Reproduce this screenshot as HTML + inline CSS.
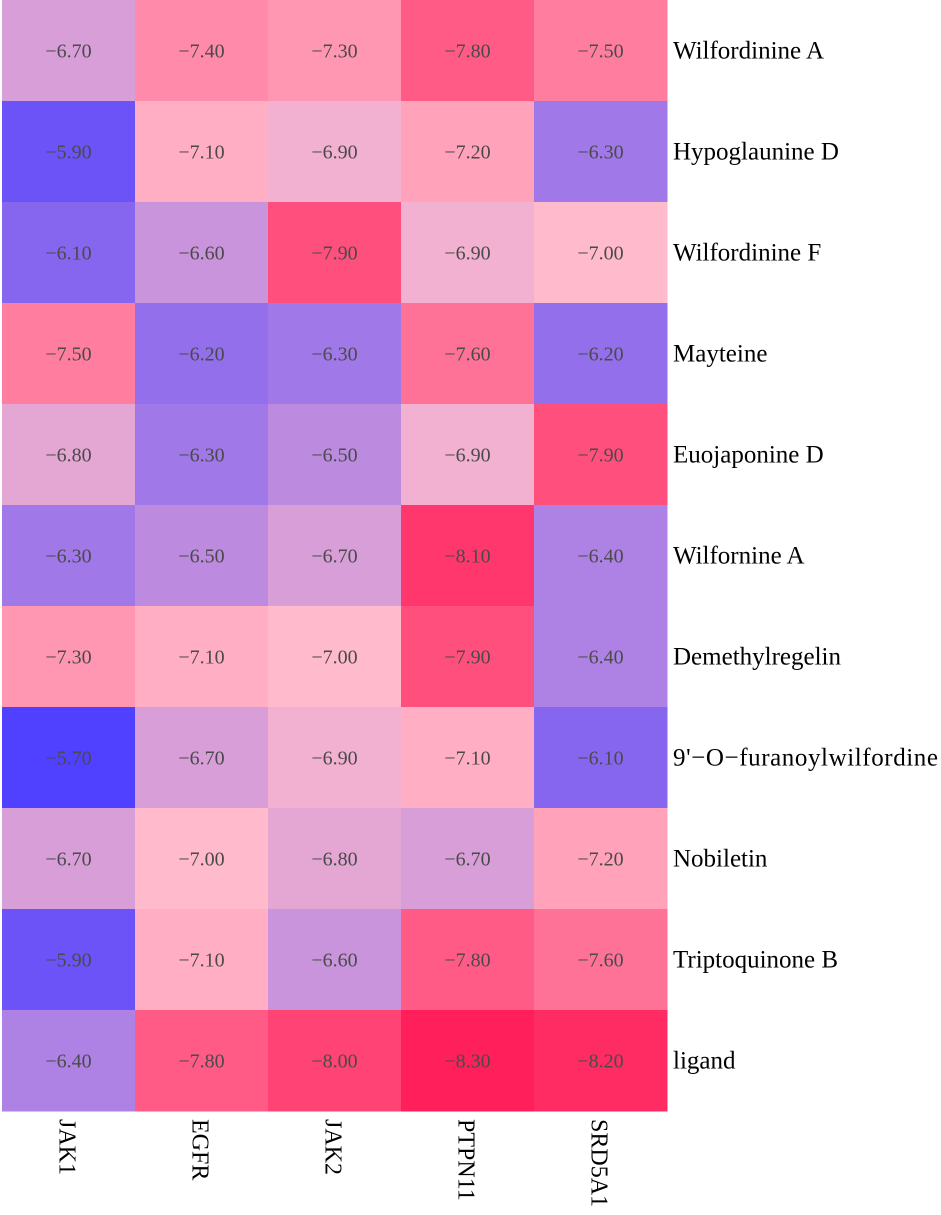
<!DOCTYPE html>
<html><head><meta charset="utf-8"><style>
html,body{margin:0;padding:0;background:#fff;width:941px;height:1215px;overflow:hidden}
svg text{font-family:"Liberation Serif",serif}
</style></head><body>
<svg id="chart" width="941" height="1215" xmlns="http://www.w3.org/2000/svg"></svg>
<script>
const columns = ["JAK1","EGFR","JAK2","PTPN11","SRD5A1"];
const rows = ["Wilfordinine A","Hypoglaunine D","Wilfordinine F","Mayteine","Euojaponine D","Wilfornine A","Demethylregelin","9'\u2212O\u2212furanoylwilfordine","Nobiletin","Triptoquinone B","ligand"];
const values = [
 [-6.7,-7.4,-7.3,-7.8,-7.5],
 [-5.9,-7.1,-6.9,-7.2,-6.3],
 [-6.1,-6.6,-7.9,-6.9,-7.0],
 [-7.5,-6.2,-6.3,-7.6,-6.2],
 [-6.8,-6.3,-6.5,-6.9,-7.9],
 [-6.3,-6.5,-6.7,-8.1,-6.4],
 [-7.3,-7.1,-7.0,-7.9,-6.4],
 [-5.7,-6.7,-6.9,-7.1,-6.1],
 [-6.7,-7.0,-6.8,-6.7,-7.2],
 [-5.9,-7.1,-6.6,-7.8,-7.6],
 [-6.4,-7.8,-8.0,-8.3,-8.2]
];
const svg=document.getElementById('chart');
const NS='http://www.w3.org/2000/svg';
const x0=2,y0=0,cw=133,rh=101;
const vmin=-8.3,vmid=-7.0,vmax=-5.7;
const cLow=[255,31,90],cMid=[255,186,204],cHigh=[80,64,255];
function lerp(a,b,t){return a.map((v,i)=>Math.round(v+(b[i]-v)*t));}
function color(v){
  let c;
  if(v<=vmid){c=lerp(cLow,cMid,(v-vmin)/(vmid-vmin));}
  else{c=lerp(cMid,cHigh,(v-vmid)/(vmax-vmid));}
  return 'rgb('+c.join(',')+')';
}
function xs(j){return x0+j*cw;}
function ys(i){return y0+i*rh;}
rows.forEach((r,i)=>{
  columns.forEach((c,j)=>{
    const v=values[i][j];
    const rect=document.createElementNS(NS,'rect');
    rect.setAttribute('x',xs(j));rect.setAttribute('y',ys(i));
    rect.setAttribute('width',cw+0.5);rect.setAttribute('height',rh+0.5);
    rect.setAttribute('fill',color(v));
    
    
    svg.appendChild(rect);
    const t=document.createElementNS(NS,'text');
    t.setAttribute('x',xs(j)+cw/2);t.setAttribute('y',ys(i)+rh/2+7);
    t.setAttribute('text-anchor','middle');t.setAttribute('font-size','20');
    t.setAttribute('fill','#4a4a4a');
    t.textContent='\u2212'+Math.abs(v).toFixed(2);
    
    
    svg.appendChild(t);
  });
  const lt=document.createElementNS(NS,'text');
  lt.setAttribute('x',673);lt.setAttribute('y',ys(i)+rh/2+8);
  lt.setAttribute('font-size','25');lt.setAttribute('fill','#000');
  lt.setAttribute('textLength', r.length>20 ? 265 : null);
  if(r.length<=20) lt.removeAttribute('textLength');
  lt.textContent=r;
  
  
  svg.appendChild(lt);
});
columns.forEach((c,j)=>{
  const t=document.createElementNS(NS,'text');
  const cx=xs(j)+cw/2-9, cy=y0+rows.length*rh+8;
  t.setAttribute('x',cx);t.setAttribute('y',cy);
  t.setAttribute('transform','rotate(90 '+cx+' '+cy+')');
  t.setAttribute('font-size','24');t.setAttribute('fill','#000');
  t.textContent=c;
  
  
  svg.appendChild(t);
});
</script>
</body></html>
